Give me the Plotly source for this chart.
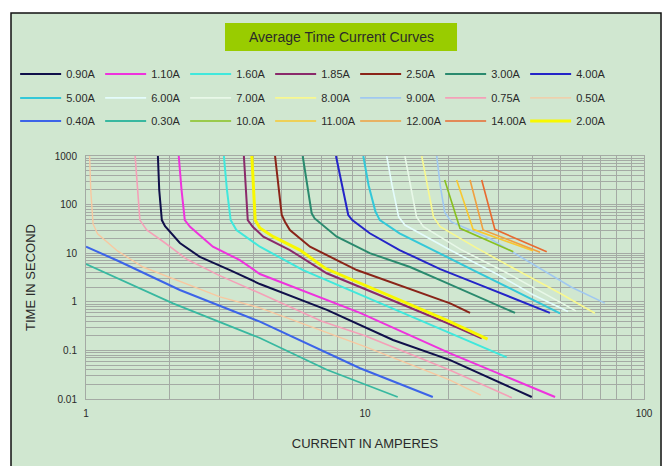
import plotly.graph_objects as go

# ---------------- data ----------------
series_names = ["0.90A", "1.10A", "1.60A", "1.85A", "2.50A", "3.00A", "4.00A",
                "5.00A", "6.00A", "7.00A", "8.00A", "9.00A", "0.75A", "0.50A",
                "0.40A", "0.30A", "10.0A", "11.00A", "12.00A", "14.00A", "2.00A"]

amps_090 = [1.81, 1.83, 1.87, 1.92, 2.17, 2.56, 3.28, 4.2, 7.3, 12.6, 20.2, 39.6]
secs_090 = [1000, 200, 48, 36, 16.2, 8.4, 4.5, 2.32, 0.68, 0.164, 0.063, 0.011]

amps_110 = [2.15, 2.2, 2.26, 2.36, 2.85, 3.56, 4.2, 9.6, 20.2, 48]
secs_110 = [1000, 200, 48, 35, 13.6, 7.2, 3.73, 0.59, 0.087, 0.011]

amps_160 = [3.12, 3.2, 3.3, 3.46, 4.2, 6.0, 11, 20.2, 32.2]
secs_160 = [1000, 200, 48, 30, 13.6, 4.5, 1.01, 0.228, 0.072]

amps_185 = [3.68, 3.74, 3.8, 3.96, 4.32, 5.38, 7.29, 19.6, 26.2]
secs_185 = [1000, 200, 48, 35, 21.9, 11.6, 3.86, 0.37, 0.177]

amps_250 = [4.76, 4.9, 5.03, 5.17, 5.38, 6.35, 8.36, 9.34, 20.2, 23.8]
secs_250 = [1000, 250, 61, 44, 30, 13.6, 6.2, 4.5, 0.93, 0.59]

amps_300 = [5.98, 6.2, 6.44, 6.6, 7.92, 10.4, 14.5, 18.6, 23.8, 34.5]
secs_300 = [1000, 250, 66, 52, 21.9, 10, 5.2, 2.8, 1.5, 0.59]

amps_400 = [7.87, 8.3, 8.71, 9.0, 10.4, 13.3, 18.6, 25.8, 46]
secs_400 = [1000, 250, 61, 48, 25.7, 11.6, 4.7, 2.23, 0.59]

amps_500 = [9.86, 10.3, 10.9, 11.3, 13.3, 18.6, 24.4, 50]
secs_500 = [1000, 250, 72, 48, 25.7, 10, 4.5, 0.58]

amps_600 = [11.96, 12.5, 13.2, 13.9, 20.2, 30, 40, 53.4]
secs_600 = [1000, 250, 56, 38, 11.6, 3.6, 1.4, 0.63]

amps_700 = [13.9, 14.6, 15.3, 16.2, 22, 32, 45, 57]
secs_700 = [1000, 250, 56, 35, 12, 4, 1.4, 0.65]

amps_800 = [15.97, 16.7, 17.6, 18.6, 25, 35, 50, 66.7]
secs_800 = [1000, 250, 56, 35, 13, 4.5, 1.5, 0.58]

amps_900 = [18.07, 18.6, 19.3, 20.4, 28, 40, 55, 72.4]
secs_900 = [1000, 250, 70, 44, 20, 6, 2, 0.94]

amps_075 = [1.5, 1.53, 1.56, 1.65, 1.9, 2.3, 3.0, 4.2, 7, 10, 20.2, 33.6]
secs_075 = [1000, 200, 48, 30, 17, 7.5, 3.5, 1.5, 0.4, 0.2, 0.039, 0.0106]

amps_050 = [1.03, 1.04, 1.06, 1.1, 1.3, 1.6, 3.02, 4.2, 10, 20, 26]
secs_050 = [1000, 200, 40, 25, 11, 5.2, 1.26, 0.75, 0.12, 0.025, 0.012]

amps_040 = [1.0, 1.3, 2.17, 4.2, 9.6, 17.5]
secs_040 = [13.6, 7.0, 1.75, 0.39, 0.043, 0.011]

amps_030 = [1.0, 2.05, 4.2, 7.3, 13.1]
secs_030 = [6.0, 0.93, 0.18, 0.04, 0.011]

amps_1000 = [19.3, 21.9, 34.0]
secs_1000 = [320, 32.5, 10.7]

amps_1100 = [21.3, 24.4, 40.0]
secs_1100 = [320, 31, 11.2]

amps_1200 = [23.8, 26.5, 42.4]
secs_1200 = [320, 30, 10.5]

amps_1400 = [26.2, 29.2, 44.8]
secs_1400 = [320, 31, 10.7]

amps_200 = [3.93, 3.98, 4.04, 4.2, 4.69, 5.85, 7.2, 19.6, 27.5]
secs_200 = [1000, 200, 48, 33, 21.9, 11.6, 4.9, 0.42, 0.17]

x_tick_vals = [1, 10, 100]
x_tick_text = ["1", "10", "100"]
y_tick_vals = [0.01, 0.1, 1, 10, 100, 1000]
y_tick_text = ["0.01", "0.1", "1", "10", "100", "1000"]

# ---------------- styling ----------------
series_data = [
    (amps_090, secs_090), (amps_110, secs_110), (amps_160, secs_160),
    (amps_185, secs_185), (amps_250, secs_250), (amps_300, secs_300),
    (amps_400, secs_400), (amps_500, secs_500), (amps_600, secs_600),
    (amps_700, secs_700), (amps_800, secs_800), (amps_900, secs_900),
    (amps_075, secs_075), (amps_050, secs_050), (amps_040, secs_040),
    (amps_030, secs_030), (amps_1000, secs_1000), (amps_1100, secs_1100),
    (amps_1200, secs_1200), (amps_1400, secs_1400), (amps_200, secs_200),
]
colors = ["#10104a", "#ee33dd", "#40e8dc", "#8a2a6a", "#8a2418", "#2a8a6e",
          "#2424c8", "#33c8d8", "#e4fcfc", "#e8f8e8", "#f8f890", "#a0c8f0",
          "#f4a0b8", "#f8c8a0", "#3c64e8", "#38b8a0", "#88c020", "#f8c830",
          "#f0a040", "#e86a30", "#f8f800"]
widths = [2, 2, 2, 2, 2, 2, 2, 2, 1.6, 1.6, 1.6, 1.6,
          1.6, 1.4, 2, 1.8, 1.6, 1.6, 1.6, 1.6, 3]

BG = "#d0e7d0"
TXT = "#2a2a2a"
FONT = "Liberation Sans, Arial, sans-serif"

fig = go.Figure()
legend_ids = ["legend", "legend2", "legend3"]
for k, (name, (xs, ys)) in enumerate(zip(series_names, series_data)):
    fig.add_trace(go.Scatter(
        x=xs, y=ys, mode="lines", name=name,
        line=dict(color=colors[k], width=widths[k]),
        legend=legend_ids[k // 7],
        hoverinfo="skip",
    ))

def minor_vals(lo, hi):
    return [m * 10.0 ** e for e in range(lo, hi) for m in range(2, 10)]

GRID = "#a4aaa4"
fig.update_xaxes(
    type="log", range=[0, 2],
    tickmode="array", tickvals=x_tick_vals, ticktext=x_tick_text,
    showgrid=True, gridcolor=GRID, gridwidth=1,
    minor=dict(tickmode="array", tickvals=minor_vals(0, 2), showgrid=True,
               gridcolor=GRID, gridwidth=1, ticks=""),
    showline=True, linecolor=GRID, mirror=True, zeroline=False, ticks="",
    ticklabelstandoff=5,
    tickfont=dict(family=FONT, size=10, color=TXT),
    title=dict(text="CURRENT IN AMPERES", font=dict(family=FONT, size=13, color=TXT),
               standoff=20),
    automargin=False,
)
fig.update_yaxes(
    type="log", range=[-2, 3],
    tickmode="array", tickvals=y_tick_vals, ticktext=y_tick_text,
    showgrid=True, gridcolor=GRID, gridwidth=1,
    minor=dict(tickmode="array", tickvals=minor_vals(-2, 3), showgrid=True,
               gridcolor=GRID, gridwidth=1, ticks=""),
    showline=True, linecolor=GRID, mirror=True, zeroline=False, ticks="",
    ticklabelstandoff=6,
    tickfont=dict(family=FONT, size=10, color=TXT),
    title=dict(text="TIME IN SECOND", font=dict(family=FONT, size=13, color=TXT),
               standoff=16),
    automargin=False,
)

legend_common = dict(orientation="h", xanchor="left", yanchor="middle",
                     x=-0.127, bgcolor="rgba(0,0,0,0)", borderwidth=0,
                     itemwidth=41, entrywidth=29, entrywidthmode="pixels",
                     font=dict(family=FONT, size=11, color=TXT),
                     itemclick=False, itemdoubleclick=False)

fig.update_layout(
    width=663, height=466,
    margin=dict(l=86, r=19, t=156, b=67),
    paper_bgcolor="white", plot_bgcolor=BG,
    showlegend=True,
    legend=dict(legend_common, y=1.337),
    legend2=dict(legend_common, y=1.239),
    legend3=dict(legend_common, y=1.144),
    shapes=[
        dict(type="rect", xref="paper", yref="paper", layer="below",
             x0=-0.1344, x1=1.0305, y0=-0.30, y1=1.5885,
             fillcolor=BG, line=dict(color="#111111", width=1.5)),
        dict(type="rect", xref="paper", yref="paper", layer="below",
             x0=0.2491, x1=0.6649, y0=1.432, y1=1.547,
             fillcolor="#99cc00", line=dict(width=0)),
    ],
    annotations=[
        dict(text="Average Time Current Curves", xref="paper", yref="paper",
             x=0.457, y=1.4897, xanchor="center", yanchor="middle",
             showarrow=False, font=dict(family=FONT, size=14, color=TXT)),
    ],
)

fig.write_html("out.html",
               config={"displayModeBar": False},
               post_script="document.body.style.margin='0';"
                           "document.body.style.overflow='hidden';")
